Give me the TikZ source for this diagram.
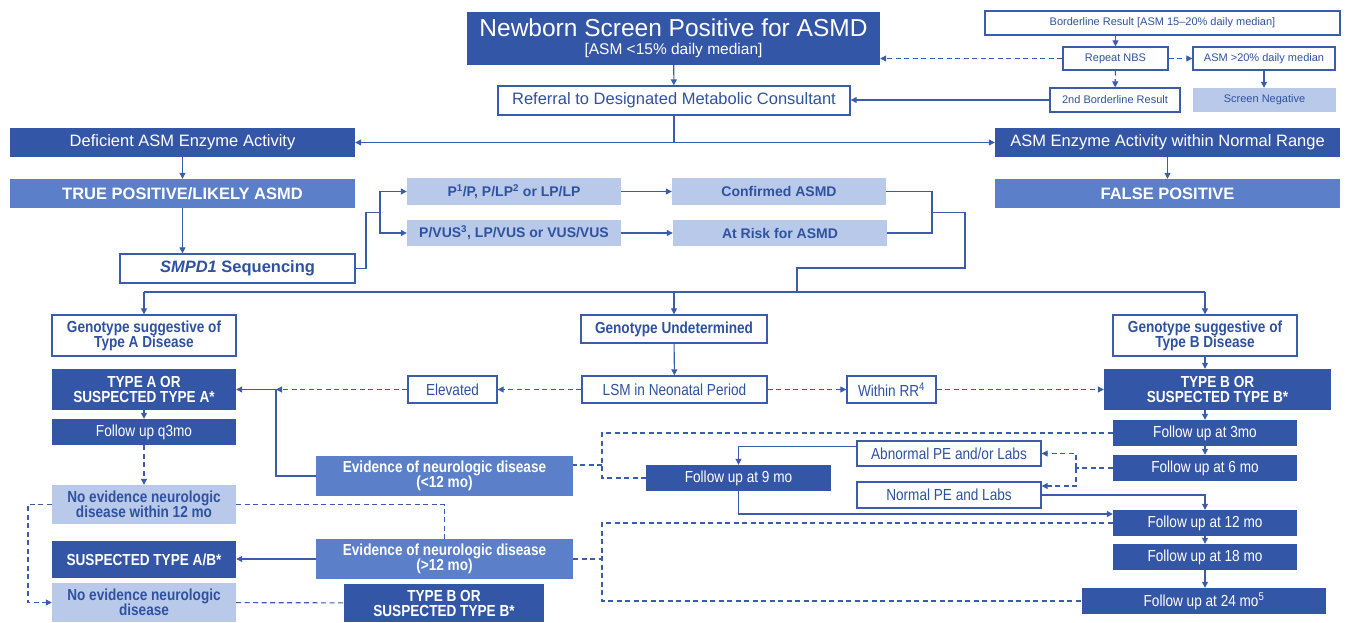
\documentclass[tikz,border=0pt]{standalone}
\usepackage{fontspec}
\setmainfont{Liberation Sans}
\newfontfamily\narrowfont[FakeStretch=0.85]{Liberation Sans}
\usetikzlibrary{arrows.meta}
\definecolor{asmdark}{RGB}{51,86,166}
\definecolor{asmmid}{RGB}{91,128,201}
\definecolor{asmlight}{RGB}{185,201,233}
\definecolor{asmtext}{RGB}{47,82,160}
\definecolor{asmline}{RGB}{59,92,170}
\begin{document}
\begin{tikzpicture}[x=1pt,y=-1pt]
    \tikzset{box/.style = {shape=rectangle,inner sep=0pt,align=center}}
    \tikzset{sz/.style 2 args = {minimum width=#1pt,minimum height=#2pt}}
    \tikzset{dark/.style = {box,fill=asmdark,text=white}}
    \tikzset{mid/.style = {box,fill=asmmid,text=white}}
    \tikzset{light/.style = {box,fill=asmlight,text=asmtext}}
    \tikzset{outline/.style = {box,draw=asmline,line width=1.3pt,fill=white,text=asmtext}}
    \tikzset{fsmall/.style = {font=\fontsize{11}{13}\selectfont}}
    \tikzset{fmain/.style = {font=\fontsize{16.5}{18}\selectfont}}
    \tikzset{fmainb/.style = {font=\bfseries\fontsize{16.5}{18}\selectfont}}
    \tikzset{fgen/.style = {font=\bfseries\fontsize{14}{16}\selectfont}}
    \tikzset{fnar/.style = {font=\narrowfont\fontsize{16}{15}\selectfont}}
    \tikzset{fnarb/.style = {font=\narrowfont\bfseries\fontsize{16}{15}\selectfont}}
    \tikzset{link/.style = {draw=asmline,line width=1.1pt,>={Triangle[length=6pt,width=6pt]}}}
    \tikzset{dlink/.style = {link,dash pattern=on 5pt off 3.5pt}}
    \useasboundingbox (0,0) rectangle (1346,622);
    \node[dark,sz={413}{53},font=\fontsize{24.5}{18}\selectfont] (nbs) at (673.5,38.5) {Newborn Screen Positive for ASMD\\{\fontsize{15.5}{18}\selectfont [ASM <15\% daily median]}};
    \node[outline,sz={352}{29},fmain] (referral) at (674,100.5) {Referral to Designated Metabolic Consultant};
    \node[outline,sz={355}{24},fsmall] (border) at (1162.5,23) {Borderline Result [ASM 15–20\% daily median]};
    \node[outline,sz={105}{23},fsmall] (repeat) at (1115.5,58.5) {Repeat NBS};
    \node[outline,sz={142}{23},fsmall] (above) at (1264,58.5) {ASM >20\% daily median};
    \node[outline,sz={130}{24},fsmall] (second) at (1115,100) {2nd Borderline Result};
    \node[light,sz={143}{24},fsmall] (screenneg) at (1264.5,100) {Screen Negative};
    \node[dark,sz={345}{29},fmain] (deficient) at (182.5,142.5) {Deficient ASM Enzyme Activity};
    \node[dark,sz={345}{29},fmain] (normal) at (1167.5,142.5) {ASM Enzyme Activity within Normal Range};
    \node[mid,sz={345}{29},fmainb] (truepos) at (182.5,193.5) {TRUE POSITIVE/LIKELY ASMD};
    \node[mid,sz={345}{29},fmainb] (falsepos) at (1167.5,193.5) {FALSE POSITIVE};
    \node[outline,sz={235}{29},fmainb] (smpd) at (237.5,268.5) {\textit{SMPD1} Sequencing};
    \node[light,sz={214}{27},fgen] (plp) at (514,191.5) {P\textsuperscript{1}/P, P/LP\textsuperscript{2} or LP/LP};
    \node[light,sz={214}{26},fgen] (pvus) at (514,233) {P/VUS\textsuperscript{3}, LP/VUS or VUS/VUS};
    \node[light,sz={214}{27},fgen] (confirmed) at (779,191.5) {Confirmed ASMD};
    \node[light,sz={214}{26},fgen] (atrisk) at (780,233) {At Risk for ASMD};
    \node[outline,sz={184}{41},fnarb] (genoA) at (144,335.5) {Genotype suggestive of\\Type A Disease};
    \node[outline,sz={186}{28},fnarb] (genoU) at (674,329) {Genotype Undetermined};
    \node[outline,sz={184}{41},fnarb] (genoB) at (1205,335.5) {Genotype suggestive of\\Type B Disease};
    \node[dark,sz={184}{41},fnarb] (typeA) at (144,389.5) {TYPE A OR\\SUSPECTED TYPE A*};
    \node[outline,sz={89}{27},fnar] (elevated) at (452.5,389.5) {Elevated};
    \node[outline,sz={185}{27},fnar] (lsm) at (674.5,389.5) {LSM in Neonatal Period};
    \node[outline,sz={89}{27},fnar] (withinrr) at (891.5,389.5) {Within RR\textsuperscript{4}};
    \node[dark,sz={227}{41},fnarb] (typeB) at (1217.5,389.5) {TYPE B OR\\SUSPECTED TYPE B*};
    \node[dark,sz={184}{26},fnar] (q3mo) at (144,432) {Follow up q3mo};
    \node[dark,sz={184}{26},fnar] (fu3) at (1205,433) {Follow up at 3mo};
    \node[outline,sz={184}{25},fnar] (abnormal) at (949,453.5) {Abnormal PE and/or Labs};
    \node[dark,sz={184}{26},fnar] (fu6) at (1205,468) {Follow up at 6 mo};
    \node[mid,sz={257}{40},fnarb] (evid1) at (444.5,476) {Evidence of neurologic disease\\(<12 mo)};
    \node[dark,sz={185}{26},fnar] (fu9) at (738.5,478) {Follow up at 9 mo};
    \node[outline,sz={184}{26},fnar] (normalpe) at (949,495) {Normal PE and Labs};
    \node[light,sz={184}{39},fnarb] (noevid1) at (144,504.5) {No evidence neurologic\\disease within 12 mo};
    \node[dark,sz={184}{26},fnar] (fu12) at (1205,523) {Follow up at 12 mo};
    \node[dark,sz={184}{37},fnarb] (suspAB) at (144,559.5) {SUSPECTED TYPE A/B*};
    \node[mid,sz={257}{40},fnarb] (evid2) at (444.5,559) {Evidence of neurologic disease\\(>12 mo)};
    \node[dark,sz={184}{26},fnar] (fu18) at (1205,557) {Follow up at 18 mo};
    \node[light,sz={184}{39},fnarb] (noevid2) at (144,602.5) {No evidence neurologic\\disease};
    \node[dark,sz={200}{38},fnarb] (typeB2) at (444,603) {TYPE B OR\\SUSPECTED TYPE B*};
    \node[dark,sz={244}{26},fnar] (fu24) at (1204,601) {Follow up at 24 mo\textsuperscript{5}};
    \coordinate (smpdout) at (366,212.5);
    \coordinate (fork) at (380,212.5);
    \coordinate (merge) at (932,212.5);
    \coordinate (jog) at (965,268);
    \coordinate (drop) at (797,292);
    \coordinate (joinA) at (276,389.5);
    \coordinate (lane1) at (602,465);
    \coordinate (lane2) at (1076,468);
    \coordinate (lane3) at (602,559);
    \coordinate (laneL) at (28,504.5);
    \draw[link,->] (nbs) -- (referral);
    \draw[link,->] (repeat.north |- border.south) -- (repeat);
    \draw[dlink,->] (repeat) -- (above);
    \draw[dlink,->] (repeat) -- (second);
    \draw[dlink,->] (repeat.west) -- (repeat.west -| nbs.east);
    \draw[link,->] (above.south) -- (above.south |- screenneg.north);
    \draw[link,->] (second.west) -- (second.west -| referral.east);
    \draw[link,->] (referral.south) |- (deficient.east);
    \draw[link,->] (referral.south) |- (normal.west);
    \draw[link,->] (deficient) -- (truepos);
    \draw[link,->] (normal) -- (falsepos);
    \draw[link,->] (truepos.south) -- (truepos.south |- smpd.north);
    \draw[link] (smpd.east) -| (smpdout) -- (fork);
    \draw[link,->] (fork) |- (plp.west);
    \draw[link,->] (fork) |- (pvus.west);
    \draw[link,->] (plp) -- (confirmed);
    \draw[link,->] (pvus) -- (atrisk);
    \draw[link] (confirmed.east) -| (merge);
    \draw[link] (atrisk.east) -| (merge);
    \draw[link] (merge) -| (jog) -| (drop);
    \draw[link] (genoA |- drop) -- (genoB |- drop);
    \draw[link,->] (genoA |- drop) -- (genoA);
    \draw[link,->] (genoU |- drop) -- (genoU);
    \draw[link,->] (genoB |- drop) -- (genoB);
    \draw[link,->] (genoU) -- (lsm);
    \draw[dlink,->] (lsm) -- (elevated);
    \draw[dlink,->] (elevated) -- (joinA);
    \draw[link,->] (evid1.west) -| (joinA) -- (typeA.east);
    \draw[dlink,->] (lsm) -- (withinrr);
    \draw[dlink,->] (withinrr) -- (typeB);
    \draw[link,->] (genoB.south) -- (genoB.south |- typeB.north);
    \draw[link,->] (typeA) -- (q3mo);
    \draw[link,->] (fu3.north |- typeB.south) -- (fu3);
    \draw[dlink,->] (q3mo) -- (noevid1);
    \draw[link,->] (fu3) -- (fu6);
    \draw[dlink] (fu3.west) -| (lane1) |- (fu9.west);
    \draw[dlink] (lane1) -- (lane1 -| evid1.east);
    \draw[dlink] (fu6.west) -- (lane2);
    \draw[dlink,->] (lane2) |- (abnormal.east);
    \draw[dlink,->] (lane2) |- ([yshift=9pt]normalpe.east);
    \draw[link,->] ([yshift=7pt]abnormal.west) -| (fu9.north);
    \draw[link,->] (normalpe.east) -| (fu12.north);
    \draw[link,->] (fu9.south) |- ([yshift=9pt]fu12.west);
    \draw[link,->] (fu12) -- (fu18);
    \draw[link,->] (fu18.south) -- (fu18.south |- fu24.north);
    \draw[dlink] (fu12.west) -| (lane3) |- (fu24.west);
    \draw[dlink] (evid2.east) -- (lane3);
    \draw[dlink,->] (noevid1.west) -- (laneL) |- (noevid2.west);
    \draw[dlink] (noevid1.east) -| (evid2.north);
    \draw[link,->] (evid2.west) -- (evid2.west -| suspAB.east);
    \draw[dlink] (noevid2) -- (typeB2);
\end{tikzpicture}
\end{document}
